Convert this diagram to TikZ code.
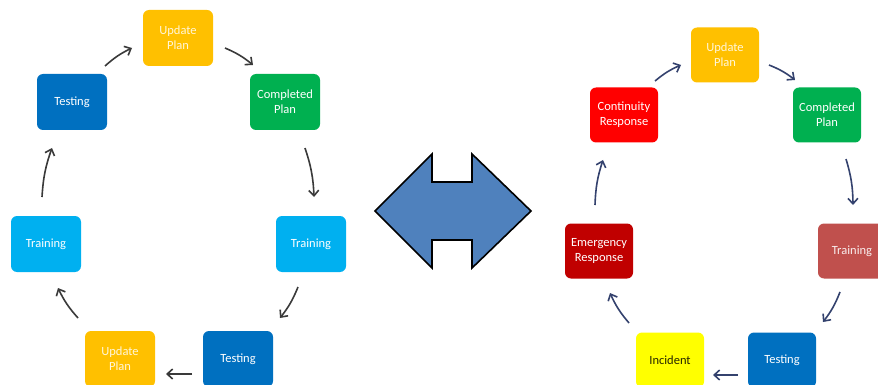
\documentclass[tikz,border=0pt]{standalone}
\usepackage{fontspec}
\setmainfont{Carlito}
\usetikzlibrary{arrows.meta}
\definecolor{cyel}{HTML}{FFC000}
\definecolor{cdblue}{HTML}{0070C0}
\definecolor{cgreen}{HTML}{00B050}
\definecolor{clblue}{HTML}{00B0F0}
\definecolor{cred}{HTML}{FF0000}
\definecolor{cdred}{HTML}{C00000}
\definecolor{crose}{HTML}{C0504D}
\definecolor{cinc}{HTML}{FFFF00}
\definecolor{cbig}{HTML}{4F81BD}
\definecolor{arrgray}{HTML}{3A3A3A}
\definecolor{arrnavy}{HTML}{34426E}
\begin{document}
\begin{tikzpicture}[x=1pt,y=-1pt,
  box/.style={rounded corners=6pt, minimum width=70, minimum height=56, align=center,
    font=\fontsize{12.5}{15}\selectfont, text=white, inner sep=1pt},
  rbox/.style={box, minimum width=68, minimum height=55},
  arrl/.style={draw=arrgray, line width=1.6pt, -{Straight Barb[length=5.5pt,width=10pt]}},
  arrr/.style={draw=arrnavy, line width=1.6pt, -{Straight Barb[length=5.5pt,width=10pt]}}]
\useasboundingbox (0,0) rectangle (878,385);
\clip (0,0) rectangle (878,385);
\fill[white] (0,0) rectangle (878,385);
% left cycle
\node[box, fill=cyel, text=white!85!cyel] (u1) at (178,38) {Update\\Plan};
\node[box, fill=cdblue] (t1) at (72,102) {Testing};
\node[box, fill=cgreen] (c1) at (285,102) {Completed\\Plan};
\node[box, fill=clblue] (r1) at (46,244) {Training};
\node[box, fill=clblue] (r2) at (311,244) {Training};
\node[box, fill=cyel, text=white!85!cyel] (u2) at (120,359) {Update\\Plan};
\node[box, fill=cdblue] (t2) at (238,359) {Testing};
\draw[arrl] ([shift={(33,-36)}]t1.center) to[bend left=8] ([shift={(-46,10)}]u1.center);
\draw[arrl] ([shift={(47,10)}]u1.center) to[bend left=8] ([shift={(-32,-37)}]c1.center);
\draw[arrl] ([shift={(20,46)}]c1.center) to[bend left=8] ([shift={(3,-47)}]r2.center);
\draw[arrl] ([shift={(-13,43)}]r2.center) to[bend left=8] ([shift={(42,-41)}]t2.center);
\draw[arrl] ([shift={(-46,15)}]t2.center) to ([shift={(46,15)}]u2.center);
\draw[arrl] ([shift={(-42,-41)}]u2.center) to[bend left=8] ([shift={(12,44)}]r1.center);
\draw[arrl] ([shift={(-4,-47)}]r1.center) to[bend left=8] ([shift={(-20,46)}]t1.center);
% double arrow
\draw[fill=cbig, draw=black, line width=1.6pt, line join=miter]
  (375,211) -- (432,154) -- (432,182) -- (472,182) -- (472,154) -- (531,211)
  -- (472,268) -- (472,240) -- (432,240) -- (432,268) -- cycle;
% right cycle
\node[rbox, fill=cyel, text=white!85!cyel] (u3) at (725,55) {Update\\Plan};
\node[rbox, fill=cred] (cr) at (624,115) {Continuity\\Response};
\node[rbox, fill=cgreen] (c3) at (827,115) {Completed\\Plan};
\node[rbox, fill=cdred] (er) at (599,251) {Emergency\\Response};
\node[rbox, fill=crose, text=white!90!crose] (r3) at (852,251) {Training};
\node[rbox, fill=cinc, text=black!85!cinc] (inc) at (670,360) {Incident};
\node[rbox, fill=cdblue] (t3) at (782,360) {Testing};
\draw[arrr] ([shift={(31,-34)}]cr.center) to[bend left=8] ([shift={(-44,10)}]u3.center);
\draw[arrr] ([shift={(44,10)}]u3.center) to[bend left=8] ([shift={(-32,-35)}]c3.center);
\draw[arrr] ([shift={(19,44)}]c3.center) to[bend left=8] ([shift={(1,-46)}]r3.center);
\draw[arrr] ([shift={(-12,41)}]r3.center) to[bend left=8] ([shift={(41,-38)}]t3.center);
\draw[arrr] ([shift={(-44,15)}]t3.center) to ([shift={(43,15)}]inc.center);
\draw[arrr] ([shift={(-41,-37)}]inc.center) to[bend left=8] ([shift={(11,42)}]er.center);
\draw[arrr] ([shift={(-4,-46)}]er.center) to[bend left=8] ([shift={(-21,45)}]cr.center);
\end{tikzpicture}
\end{document}
